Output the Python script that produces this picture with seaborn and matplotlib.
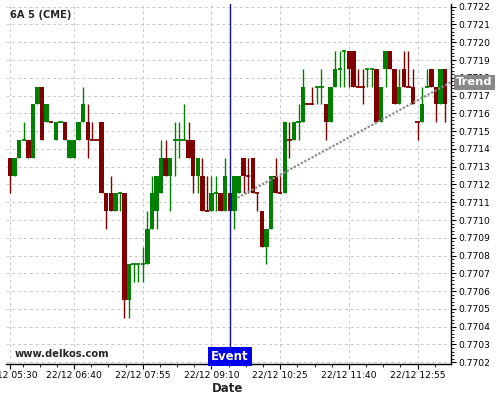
import matplotlib

matplotlib.use("Agg")
import matplotlib.pyplot as plt
import numpy as np
import pandas as pd
import seaborn as sns
from matplotlib.ticker import FixedLocator, MultipleLocator, FormatStrFormatter
from matplotlib.transforms import blended_transform_factory

symbol = "6A 5 (CME)"
site = "www.delkos.com"
session_day = "2021-12-22"
first_bar = "05:30"
bar_minutes = 5
tick_times = ["05:30", "06:40", "07:55", "09:10", "10:25", "11:40", "12:55"]
event_time = "09:30"

opens = [
    .77135, .77125, .77135, .77145, .77145, .77135, .77165, .77175, .77155, .77155,
    .77145, .77155, .77155, .77135, .77135, .77145, .77155, .77155, .77145, .77145,
    .77155, .77115, .77115, .77105, .77115, .77115, .77055, .77075, .77075, .77075,
    .77075, .77095, .77105, .77115, .77135, .77125, .77145, .77145, .77145, .77145,
    .77145, .77125, .77125, .77105, .77105, .77115, .77115, .77105, .77115, .77105,
    .77115, .77135, .77125, .77135, .77115, .77105, .77085, .77095, .77125, .77115,
    .77115, .77145, .77145, .77155, .77155, .77165, .77165, .77175, .77175, .77165,
    .77155, .77175, .77185, .77195, .77195, .77195, .77175, .77175, .77185, .77185,
    .77185, .77155, .77185, .77195, .77185, .77165, .77185, .77175, .77175, .77155,
    .77155, .77175, .77185, .77175, .77165, .77185,
]
highs = [
    .77135, .77135, .77145, .77155, .77145, .77165, .77175, .77175, .77165, .77155,
    .77155, .77155, .77155, .77145, .77145, .77155, .77175, .77165, .77155, .77145,
    .77155, .77115, .77125, .77115, .77115, .77115, .77075, .77075, .77075, .77085,
    .77105, .77125, .77125, .77145, .77145, .77135, .77155, .77155, .77165, .77155,
    .77145, .77135, .77135, .77125, .77125, .77125, .77115, .77135, .77115, .77125,
    .77125, .77135, .77135, .77135, .77115, .77105, .77095, .77125, .77135, .77125,
    .77155, .77155, .77155, .77165, .77185, .77165, .77175, .77175, .77185, .77165,
    .77175, .77195, .77195, .77195, .77195, .77195, .77185, .77185, .77185, .77185,
    .77185, .77175, .77195, .77195, .77185, .77185, .77195, .77195, .77185, .77155,
    .77175, .77185, .77185, .77175, .77185, .77185,
]
lows = [
    .77115, .77125, .77135, .77145, .77135, .77135, .77165, .77145, .77155, .77155,
    .77145, .77155, .77145, .77135, .77135, .77145, .77155, .77135, .77145, .77145,
    .77115, .77095, .77105, .77105, .77105, .77045, .77045, .77065, .77065, .77065,
    .77075, .77095, .77095, .77115, .77125, .77105, .77125, .77135, .77145, .77135,
    .77115, .77115, .77105, .77105, .77105, .77105, .77105, .77105, .77105, .77095,
    .77115, .77115, .77115, .77115, .77105, .77085, .77075, .77095, .77115, .77115,
    .77115, .77135, .77145, .77145, .77155, .77165, .77165, .77165, .77165, .77145,
    .77155, .77175, .77175, .77175, .77175, .77175, .77175, .77165, .77175, .77175,
    .77155, .77155, .77175, .77185, .77165, .77165, .77175, .77175, .77165, .77145,
    .77155, .77175, .77175, .77155, .77165, .77155,
]
closes = [
    .77125, .77135, .77145, .77145, .77135, .77165, .77175, .77145, .77165, .77155,
    .77155, .77155, .77145, .77145, .77145, .77155, .77165, .77145, .77145, .77145,
    .77115, .77105, .77105, .77115, .77115, .77055, .77075, .77075, .77075, .77075,
    .77095, .77115, .77125, .77135, .77125, .77135, .77145, .77145, .77145, .77135,
    .77125, .77135, .77105, .77105, .77115, .77115, .77105, .77125, .77105, .77125,
    .77125, .77125, .77125, .77115, .77115, .77085, .77095, .77125, .77115, .77115,
    .77155, .77145, .77155, .77155, .77175, .77165, .77165, .77175, .77175, .77155,
    .77175, .77185, .77185, .77195, .77185, .77175, .77175, .77175, .77185, .77185,
    .77155, .77175, .77195, .77185, .77165, .77175, .77175, .77175, .77165, .77155,
    .77165, .77175, .77175, .77165, .77185, .77165,
]
# bars with open == close that were drawn as up bars
up_dojis = [3, 11, 24, 27, 28, 29, 36, 37, 38, 45, 63, 67, 68, 72, 73, 78, 79, 91]

trend_bar = [49.7, 96.3]
trend_price = [0.771125, 0.771775]

times = pd.date_range(f"{session_day} {first_bar}", periods=len(opens), freq=f"{bar_minutes}min")
bars = pd.DataFrame({"time": times, "open": opens, "high": highs, "low": lows, "close": closes})
bars["bar"] = np.arange(len(bars))
bars["up"] = (bars["close"] > bars["open"]) | bars["bar"].isin(up_dojis)
bars["color"] = np.where(bars["up"], "#008000", "#800000")
bars["body"] = (bars["close"] - bars["open"]).abs()
bars["bottom"] = bars[["open", "close"]].min(axis=1)

sns.set_style("white")
plt.rcParams["font.family"] = ["DejaVu Sans"]

fig = plt.figure(figsize=(5, 4), dpi=100)
ax = fig.add_axes([0.011, 0.09, 0.891, 0.9])

ax.vlines(bars["bar"], bars["low"], bars["high"], colors=bars["color"], lw=1.0, zorder=2)
solid = bars[bars["body"] > 0]
ax.bar(solid["bar"], solid["body"], bottom=solid["bottom"], width=0.96,
       color=solid["color"], linewidth=0, zorder=3)
flat = bars[bars["body"] == 0]
ax.hlines(flat["open"], flat["bar"] - 0.48, flat["bar"] + 0.48, colors=flat["color"], lw=1.3, zorder=3)

sns.lineplot(x=trend_bar, y=trend_price, ax=ax, color="#8c8c8c", lw=1.6,
             linestyle=(0, (1.0, 0.8)), zorder=4)

time_labels = bars["time"].dt.strftime("%H:%M")
event_bar = int(bars.loc[time_labels == event_time, "bar"].iloc[0])
ax.axvline(event_bar, color="#10109a", lw=1.0, zorder=5)

major_bars = bars.loc[time_labels.isin(tick_times), "bar"].to_numpy()
ax.xaxis.set_major_locator(FixedLocator(major_bars))
ax.set_xticklabels(bars.loc[major_bars, "time"].dt.strftime("%d/%m %H:%M"))
ax.xaxis.set_minor_locator(FixedLocator(np.arange(major_bars[1] - 15, len(bars) + 1, 3.75)))

ax.yaxis.tick_right()
ax.yaxis.set_major_locator(MultipleLocator(0.0001))
ax.yaxis.set_minor_locator(MultipleLocator(0.00002))
ax.yaxis.set_major_formatter(FormatStrFormatter("%.4f"))

ax.set_xlim(-0.98, 96.3)
ax.set_ylim(0.77019, 0.772215)

ax.grid(True, which="major", color="#c8c8c8", linestyle=(0, (3, 3)), lw=0.7)
ax.set_axisbelow(True)
for side in ["top", "left"]:
    ax.spines[side].set_visible(False)
for side in ["right", "bottom"]:
    ax.spines[side].set_color("black")
    ax.spines[side].set_linewidth(1.0)

ax.tick_params(axis="both", which="major", direction="out", length=3.5, width=0.8,
               colors="black", labelsize=6.6, pad=1.5)
ax.tick_params(axis="both", which="minor", direction="out", length=2, width=0.6, colors="black")
ax.tick_params(axis="y", which="both", right=True, left=False)
ax.tick_params(axis="x", which="both", bottom=True)

ax.text(0.0101, 0.969, symbol, transform=ax.transAxes, fontsize=7.1, fontweight="bold",
        va="center", ha="left")
ax.text(0.021, 0.028, site, transform=ax.transAxes, fontsize=7.2, fontweight="bold",
        va="center", ha="left")
fig.text(228 / 500, 1 - 389 / 400, "Date", fontsize=8.5, fontweight="bold", ha="center", va="center")

bottom_blend = blended_transform_factory(ax.transData, ax.transAxes)
ax.text(event_bar, 0.022, "Event", transform=bottom_blend, fontsize=8.5, fontweight="bold",
        color="white", ha="center", va="center", zorder=6,
        bbox=dict(boxstyle="square,pad=0.25", facecolor="#0000ee", edgecolor="none"))

# figure-level text so the box sits on top of the price labels
right_blend = blended_transform_factory(ax.transAxes, ax.transData)
fig.text(1.0 + 5 / 445.5, trend_price[-1], "Trend", transform=right_blend, fontsize=8.2,
         fontweight="bold", color="white", ha="left", va="center", zorder=10,
         bbox=dict(boxstyle="square,pad=0.2", facecolor="#888888", edgecolor="none"))

fig.savefig("out.png", dpi=100)
